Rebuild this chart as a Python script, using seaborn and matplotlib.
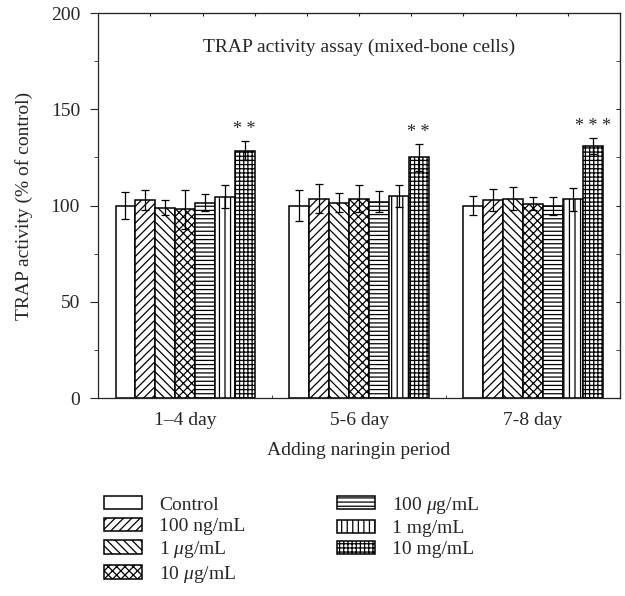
import matplotlib
matplotlib.use("Agg")
import matplotlib.pyplot as plt
import numpy as np
import pandas as pd
import seaborn as sns
from matplotlib.ticker import MultipleLocator

# data
periods = ["1\u20134 day", "5-6 day", "7-8 day"]
concs = ["Control", "100 ng/mL", r"1 $\mu$g/mL", r"10 $\mu$g/mL",
         r"100 $\mu$g/mL", "1 mg/mL", "10 mg/mL"]
means_14 = [100, 102.9, 99.0, 98.0, 101.5, 104.6, 128.5]
means_56 = [100, 103.5, 101.5, 103.5, 102.0, 105.0, 125.0]
means_78 = [100, 102.9, 103.5, 101.1, 99.7, 103.2, 131.0]
err_14 = [7.0, 5.0, 4.0, 10.0, 4.5, 6.0, 5.0]
err_56 = [8.0, 7.5, 5.0, 7.0, 5.4, 5.5, 7.0]
err_78 = [5.0, 5.5, 6.0, 3.3, 4.7, 6.0, 4.0]
stars = ["* *", "* *", "* * *"]

hatches = ["", "////", "\\\\\\\\", "xxxx", "----", "|||", "++++"]

FS = 14

sns.set_style("ticks")
plt.rcParams["font.family"] = ["Liberation Serif", "DejaVu Serif"]
plt.rcParams["mathtext.fontset"] = "custom"
plt.rcParams["mathtext.rm"] = "Liberation Serif"
plt.rcParams["mathtext.it"] = "Liberation Serif:italic"
plt.rcParams["hatch.linewidth"] = 0.9
plt.rcParams["hatch.color"] = "black"

rows = []
for p, m, e in zip(periods, [means_14, means_56, means_78], [err_14, err_56, err_78]):
    for c, mv, ev in zip(concs, m, e):
        rows.append({"period": p, "conc": c, "value": mv, "err": ev})
df = pd.DataFrame(rows)

fig = plt.figure(figsize=(6.25, 5.96), dpi=100)
ax = fig.add_axes([0.157, 0.332, 0.835, 0.646])

sns.barplot(data=df, x="period", y="value", hue="conc", order=periods,
            hue_order=concs, palette=["white"] * len(concs), edgecolor="black",
            linewidth=1.1, errorbar=None, legend=False, ax=ax, width=0.8, gap=0)

# hatches and error bars
for container, h, c in zip(ax.containers, hatches, concs):
    sub = df[df["conc"] == c].set_index("period").loc[periods]
    xs = []
    for patch in container.patches:
        patch.set_hatch(h)
        patch.set_facecolor("white")
        patch.set_edgecolor("black")
        xs.append(patch.get_x() + patch.get_width() / 2)
    ax.errorbar(xs, sub["value"].values, yerr=sub["err"].values, fmt="none",
                ecolor="black", elinewidth=0.9, capsize=2.6, capthick=0.9, zorder=5)
    if c == concs[-1]:
        for x, v, e, s in zip(xs, sub["value"].values, sub["err"].values, stars):
            ax.text(x, v + e + 6.0, s, ha="center", va="center", fontsize=13)

ax.set_ylim(0, 200)
ax.set_xlim(-0.5, 2.5)
ax.yaxis.set_major_locator(MultipleLocator(50))
ax.yaxis.set_minor_locator(MultipleLocator(25))
ax.tick_params(axis="y", which="major", direction="out", labelsize=FS, length=6, pad=7)
ax.tick_params(axis="y", which="minor", direction="out", length=3)
ax.set_xticks([0, 1, 2])
ax.set_xticklabels(periods)
ax.set_xticks([0.5, 1.5], minor=True)
ax.tick_params(axis="x", which="major", length=0, labelsize=FS, pad=10)
ax.tick_params(axis="x", which="minor", direction="in", length=2)

# small marks along the top and right frame
sec = ax.secondary_yaxis("right")
sec.yaxis.set_major_locator(MultipleLocator(50))
sec.yaxis.set_minor_locator(MultipleLocator(25))
sec.tick_params(axis="y", which="both", direction="in", length=3, labelright=False)
top = ax.secondary_xaxis("top")
top.set_xticks(np.arange(1, 10) * 0.3 - 0.5)
top.tick_params(axis="x", direction="in", length=2, labeltop=False)

for s in ax.spines.values():
    s.set_linewidth(0.9)
    s.set_visible(True)

ax.set_ylabel("TRAP activity (% of control)", fontsize=FS, labelpad=13)
ax.set_xlabel("Adding naringin period", fontsize=FS, labelpad=9)
ax.text(0.5, 0.91, "TRAP activity assay (mixed-bone cells)", transform=ax.transAxes,
        ha="center", va="center", fontsize=FS)

fig.legend(handles=list(ax.containers), labels=concs, loc="upper left",
           bbox_to_anchor=(0.166, 0.17), ncol=2, frameon=False, fontsize=FS,
           handlelength=1.95, handleheight=0.67, handletextpad=0.9,
           labelspacing=0.2, columnspacing=4.7, borderpad=0, borderaxespad=0)

fig.savefig("out.png", dpi=100)
